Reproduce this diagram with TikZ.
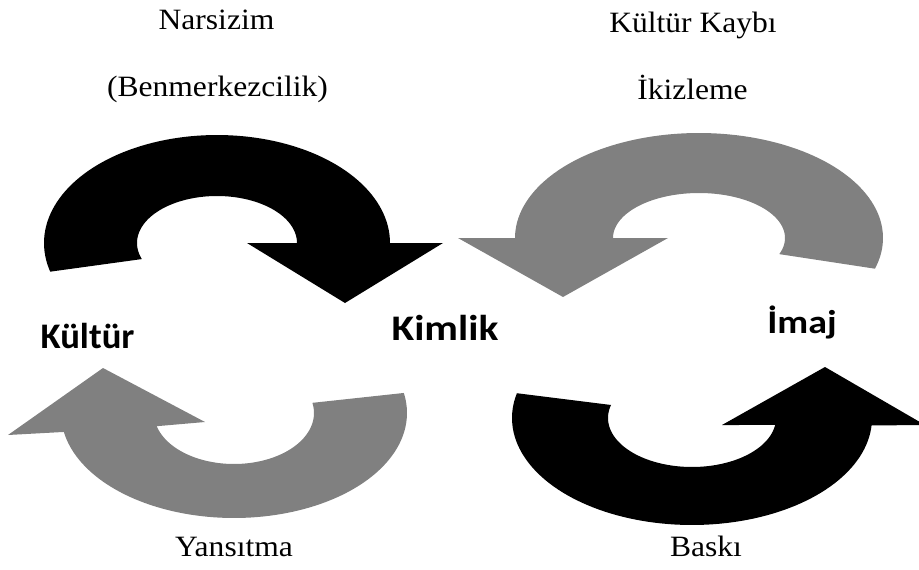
\documentclass[tikz,border=0pt]{standalone}
\usepackage{fontspec}
\setmainfont{Liberation Serif}
\newfontfamily\serifl[FakeStretch=1.07]{Liberation Serif}
\newfontfamily\calb[FakeStretch=1.15]{Carlito}
\newfontfamily\calbn[FakeStretch=1.02]{Carlito}
\definecolor{arrgray}{RGB}{128,128,128}
\begin{document}
\begin{tikzpicture}[x=1pt,y=-1pt,
  lbl/.style={anchor=base,inner sep=0pt,font=\serifl\fontsize{29.5}{34}\selectfont},
  big/.style={anchor=base,inner sep=0pt,font=\calb\bfseries\fontsize{#1}{#1}\selectfont},
  bign/.style={anchor=base,inner sep=0pt,font=\calbn\bfseries\fontsize{#1}{#1}\selectfont},
  blackarrow/.style={fill=black},
  grayarrow/.style={fill=arrgray}]
\useasboundingbox (0,0) rectangle (919,570);
% top-left black arrow
\path[blackarrow]
  plot[domain=164.6:360,samples=90] ({217+173*cos(\x)},{243+108*sin(\x)})
  -- (443,243) -- (345,303) -- (247,243)
  -- plot[domain=360:160,samples=90] ({217+80*cos(\x)},{243+47*sin(\x)}) -- cycle;
% top-right gray arrow
\path[grayarrow]
  plot[domain=17:-180,samples=90] ({699+184*cos(\x)},{238+105*sin(\x)})
  -- (458,238) -- (563,297) -- (668,238)
  -- plot[domain=-180:21,samples=90] ({699+86*cos(\x)},{238+45*sin(\x)}) -- cycle;
% bottom-left gray arrow
\path[grayarrow]
  plot[domain=-11:169.6,samples=90] ({234+173*cos(\x)},{413+105*sin(\x)})
  -- (8,435) -- (103,368) -- (205,422)
  -- plot[domain=165:-11.5,samples=90] ({234+80*cos(\x)},{413+51*sin(\x)}) -- cycle;
% bottom-right black arrow
\path[blackarrow]
  plot[domain=193.4:4,samples=90] ({692+180*cos(\x)},{418+107*sin(\x)})
  -- (925,425) -- (825,367) -- (722,425)
  -- plot[domain=8.2:195.4,samples=90] ({692+84*cos(\x)},{418+49*sin(\x)}) -- cycle;
% labels
\node[lbl] (narsizim) at (216.5,29) {Narsizim};
\node[lbl] (benmerkez) at (217.5,96) {(Benmerkezcilik)};
\node[lbl] (kayip) at (693,32) {Kültür Kaybı};
\node[lbl] (ikizleme) at (692.5,99) {İkizleme};
\node[lbl] (yansitma) at (234,556) {Yansıtma};
\node[lbl] (baski) at (706,556) {Baskı};
\node[bign=36] (kultur) at (87.5,348) {Kültür};
\node[big=36] (kimlik) at (445,340) {Kimlik};
\node[big=33] (imaj) at (802,333) {İmaj};
\end{tikzpicture}
\end{document}
